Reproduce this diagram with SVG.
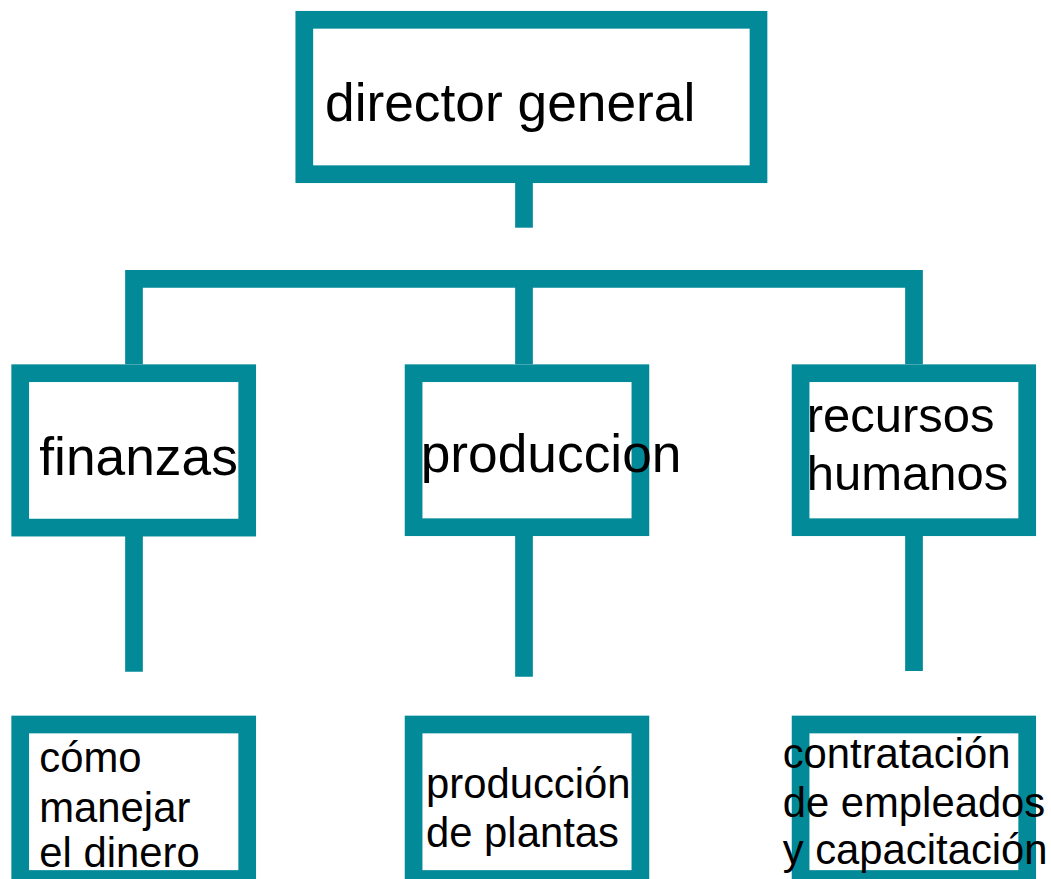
<svg xmlns="http://www.w3.org/2000/svg" width="1051" height="879" viewBox="0 0 1051 879">
<style>
.box{fill:#ffffff;stroke:#028a99;stroke-width:17.7}
.con{fill:none;stroke:#028a99;stroke-width:17.7;stroke-linejoin:miter;stroke-linecap:butt}
text{font-family:"Liberation Sans",Arial,sans-serif;fill:#000000}
.big{font-size:53.3px}
.mid{font-size:49px}
.small{font-size:41.8px}
</style>
<rect width="1051" height="879" fill="#ffffff"/>
<g id="connectors">
<path class="con" d="M524 183 V227.7"/>
<path class="con" d="M134 364.3 V278.85 H914 V364.3"/>
<path class="con" d="M524 279 V364.3"/>
<path class="con" d="M134 536 V671.7"/>
<path class="con" d="M524 536 V676.7"/>
<path class="con" d="M914 536 V671"/>
</g>
<g id="director-general">
<rect class="box" x="304.3" y="19.8" width="454.2" height="154.4"/>
<text class="big" x="325" y="120.7">director general</text>
</g>
<g id="finanzas">
<rect class="box" x="20.2" y="373.2" width="227" height="154.4"/>
<text class="big" x="39.3" y="475">finanzas</text>
</g>
<g id="produccion">
<rect class="box" x="413.6" y="373.2" width="226.8" height="154"/>
<text class="big" x="420.7" y="471.7">produccion</text>
</g>
<g id="recursos-humanos">
<rect class="box" x="800.6" y="373.2" width="226.6" height="154"/>
<text class="mid" x="806.7" y="431.7">recursos</text>
<text class="mid" x="806.7" y="490">humanos</text>
</g>
<g id="como-manejar">
<rect class="box" x="20.2" y="724.5" width="227" height="154.5"/>
<text class="small" x="39.3" y="771.7">cómo</text>
<text class="small" x="39.3" y="821.7">manejar</text>
<text class="small" x="39.3" y="867">el dinero</text>
</g>
<g id="produccion-plantas">
<rect class="box" x="413.6" y="724.5" width="226.8" height="154.5"/>
<text class="small" x="426" y="798.3">producción</text>
<text class="small" x="426" y="846.7">de plantas</text>
</g>
<g id="contratacion">
<rect class="box" x="800.6" y="724.5" width="226.6" height="154.5"/>
<text class="small" x="782.7" y="768.3">contratación</text>
<text class="small" x="782.7" y="816.7">de empleados</text>
<text class="small" x="782.7" y="864">y capacitación</text>
</g>
</svg>
